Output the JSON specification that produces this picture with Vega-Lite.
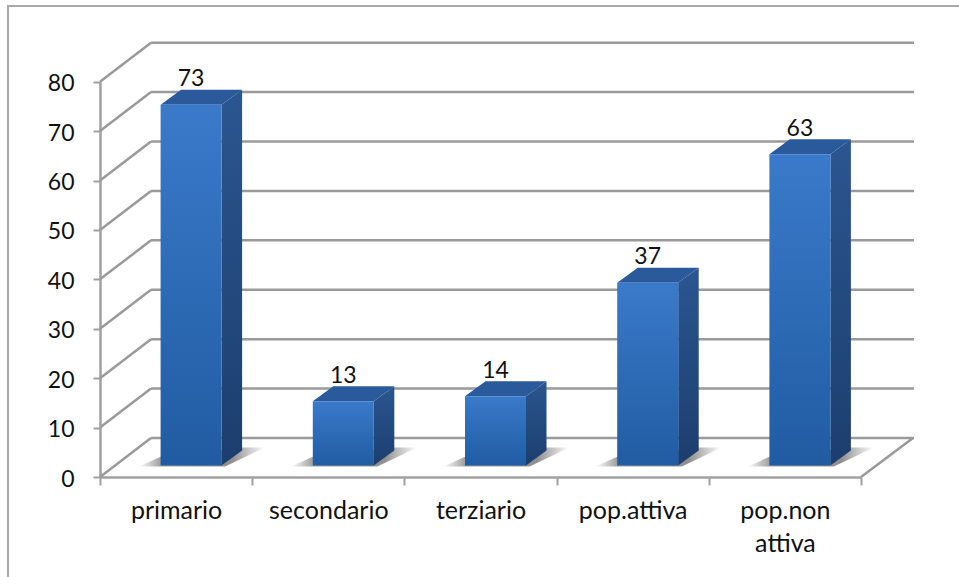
{"$schema":"https://vega.github.io/schema/vega-lite/v6.json","width":956,"height":577,"padding":{"left":8,"top":6,"right":-5,"bottom":-6},"autosize":"none","background":"white","config":{"view":{"stroke":"#a9a9a9","strokeWidth":2},"font":"Lato"},"datasets":{"bars":[{"category":"primario","value":73},{"category":"secondario","value":13},{"category":"terziario","value":14},{"category":"pop.attiva","value":37},{"category":"pop.non attiva","value":63}],"ticks":[{"tick":0,"back":7.9},{"tick":10,"back":17.9},{"tick":20,"back":27.9},{"tick":30,"back":37.9},{"tick":40,"back":47.9},{"tick":50,"back":57.9},{"tick":60,"back":67.9},{"tick":70,"back":77.9},{"tick":80,"back":87.9}]},"layer":[{"data":{"name":"ticks"},"mark":{"type":"rule","color":"#9a9a9a","strokeWidth":2.5},"encoding":{"x":{"value":92},"x2":{"value":143},"y":{"field":"tick","type":"quantitative","scale":{"domain":[0,80],"range":[471,75.7]},"title":null,"axis":{"orient":"left","offset":-92,"values":[0,10,20,30,40,50,60,70,80],"domainColor":"#a0a0a0","domainWidth":2.5,"tickColor":"#a0a0a0","tickWidth":2,"tickSize":7,"labelFontSize":23,"labelColor":"#111111","labelFont":"Lato","labelPadding":19,"labelOffset":2,"grid":false,"title":null}},"y2":{"field":"back"}}},{"data":{"name":"ticks"},"mark":{"type":"rule","color":"#9a9a9a","strokeWidth":2.5},"encoding":{"x":{"value":143},"x2":{"value":906},"y":{"field":"back","type":"quantitative"}}},{"data":{"name":"ticks"},"transform":[{"filter":"datum.tick==0"}],"mark":{"type":"rule","color":"#9a9a9a","strokeWidth":2.5},"encoding":{"x":{"value":853},"x2":{"value":905},"y":{"field":"tick","type":"quantitative"},"y2":{"field":"back"}}},{"data":{"name":"bars"},"mark":{"type":"point","filled":true,"opacity":1,"size":4,"strokeWidth":0,"xOffset":15,"yOffset":-11.5,"shape":"M-52,1L-30,-9L50,-18L74,-18L34,1Z","fill":{"gradient":"linear","x1":0,"y1":0,"x2":1,"y2":0,"stops":[{"offset":0,"color":"#ffffff"},{"offset":0.17,"color":"#a0a0a0"},{"offset":0.74,"color":"#8f8f8f"},{"offset":1,"color":"#ffffff"}]}},"encoding":{"x":{"field":"category","type":"nominal","sort":null,"scale":{"range":[92,853],"paddingInner":0,"paddingOuter":0},"title":null,"axis":{"offset":-106,"domainColor":"#a0a0a0","domainWidth":2.5,"tickColor":"#a0a0a0","tickWidth":2,"tickSize":8,"tickBand":"extent","labelAngle":0,"labelFontSize":25,"labelColor":"#111111","labelFont":"Lato","labelPadding":13,"labelLineHeight":33,"labelBaseline":"top","grid":false,"labelExpr":"datum.label=='pop.non attiva'?['pop.non','attiva']:datum.label"}},"y":{"datum":0,"type":"quantitative"}}},{"data":{"name":"bars"},"mark":{"type":"point","filled":true,"opacity":1,"size":4,"strokeWidth":0,"xOffset":45.5,"yOffset":-11.5,"shape":{"expr":"'M0,0L20.5,-15L20.5,'+(scale('y',0)-scale('y',datum.value)-15)+'L0,'+(scale('y',0)-scale('y',datum.value))+'Z'"},"fill":{"gradient":"linear","x1":0,"y1":0,"x2":0,"y2":1,"stops":[{"offset":0,"color":"#2b5690"},{"offset":1,"color":"#1c3e6e"}]}},"encoding":{"x":{"field":"category","type":"nominal","sort":null},"y":{"field":"value","type":"quantitative"}}},{"data":{"name":"bars"},"mark":{"type":"point","filled":true,"opacity":1,"size":4,"strokeWidth":0,"xOffset":15,"yOffset":-11.5,"shape":"M-30.5,0L-10,-15L51,-15L30.5,0Z","fill":"#2a5a9c"},"encoding":{"x":{"field":"category","type":"nominal","sort":null},"y":{"field":"value","type":"quantitative"}}},{"data":{"name":"bars"},"mark":{"type":"bar","size":61,"xOffset":15,"yOffset":-11.5,"y2Offset":-11.5,"fill":{"gradient":"linear","x1":0,"y1":0,"x2":0,"y2":1,"stops":[{"offset":0,"color":"#3a7aca"},{"offset":1,"color":"#215ca2"}]}},"encoding":{"x":{"field":"category","type":"nominal","sort":null},"y":{"field":"value","type":"quantitative"},"y2":{"datum":0}}},{"data":{"name":"bars"},"mark":{"type":"text","dx":15,"dy":-30,"baseline":"alphabetic","align":"center","fontSize":23,"font":"Lato","color":"#111111"},"encoding":{"x":{"field":"category","type":"nominal","sort":null},"y":{"field":"value","type":"quantitative"},"text":{"field":"value","type":"quantitative"}}}]}
